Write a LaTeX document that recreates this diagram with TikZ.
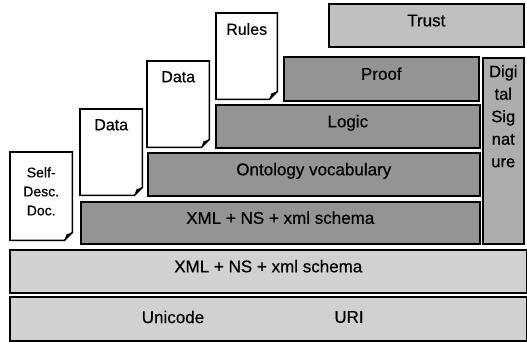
\documentclass[tikz,border=0pt]{standalone}
\usepackage{fontspec}
\setmainfont{Liberation Sans}[FakeBold=0.5]
\tikzset{
  layer/.style={draw, line width=1.6pt, anchor=north west, inner sep=0pt,
    text height=12pt, text depth=10pt, font=\fontsize{17}{20}\selectfont},
  darklayer/.style={layer, fill=black!42},
  lightlayer/.style={layer, fill=black!18},
  docbox/.style={anchor=north west, inner sep=0pt},
  docline/.style={line width=1.6pt, fill=white, line join=miter},
  doclabel/.style={anchor=north, align=center, inner sep=0pt,
    font=\fontsize{16}{19}\selectfont}
}
\begin{document}
\begin{tikzpicture}[x=1pt,y=-1pt]
  \useasboundingbox (0,0) rectangle (527,341);
  %% bottom two layers
  \node[lightlayer, minimum width=517pt, minimum height=44pt] (base) at (9,296) {};
  \node (unicode) [font=\fontsize{17}{20}\selectfont] at (173,317) {Unicode};
  \node (uri) [font=\fontsize{17}{20}\selectfont] at (349,317) {URI};
  \node[lightlayer, minimum width=517pt, minimum height=43pt] (xmlbase) at (9,249) {XML + NS + xml schema};
  %% upper stack
  \node[darklayer, minimum width=399pt, minimum height=42pt] (xmlns) at (80,201) {XML + NS + xml schema};
  \node[darklayer, minimum width=332pt, minimum height=43pt] (onto) at (147,152) {Ontology vocabulary};
  \node[darklayer, minimum width=264pt, minimum height=43pt] (logic) at (215,104) {Logic};
  \node[darklayer, minimum width=195pt, minimum height=44pt] (proof) at (283,56) {Proof};
  \node[layer, fill=black!25, minimum width=195pt, minimum height=43pt] (trust) at (328,3) {Trust};
  %% signature column
  \node[layer, fill=black!32, minimum width=41pt, minimum height=186pt, text height=, text depth=] (sig) at (482,57) {};
  \node[doclabel, font=\fontsize{16.5}{22.5}\selectfont] (sigtext) at ([yshift=-8pt]sig.north) {Digi\\tal\\Sig\\nat\\ure};
  %% documents with folded corner
  \foreach \nm/\x/\y/\w/\h in {selfdoc/10/152/62/88, dataone/80/109/62/86,
      datatwo/147/61/62/86, rules/216/13/61/86} {
    \node[docbox, minimum width=\w pt, minimum height=\h pt] (\nm) at (\x,\y) {};
    \draw[docline] (\nm.north west) -- (\nm.north east) -- ([yshift=8pt]\nm.south east)
      -- ([xshift=-8pt]\nm.south east) -- (\nm.south west) -- cycle;
    \fill ([yshift=8pt]\nm.south east) -- ([xshift=-6pt,yshift=6pt]\nm.south east)
      -- ([xshift=-8pt]\nm.south east) -- cycle;
  }
  \node[doclabel, font=\fontsize{14}{19}\selectfont] (selfdoctext) at ([yshift=-15pt]selfdoc.north) {Self-\\Desc.\\Doc.};
  \node[doclabel] (dataonetext) at ([yshift=-10pt]dataone.north) {Data};
  \node[doclabel] (datatwotext) at ([yshift=-10pt]datatwo.north) {Data};
  \node[doclabel] (rulestext) at ([yshift=-10pt]rules.north) {Rules};
\end{tikzpicture}
\end{document}
